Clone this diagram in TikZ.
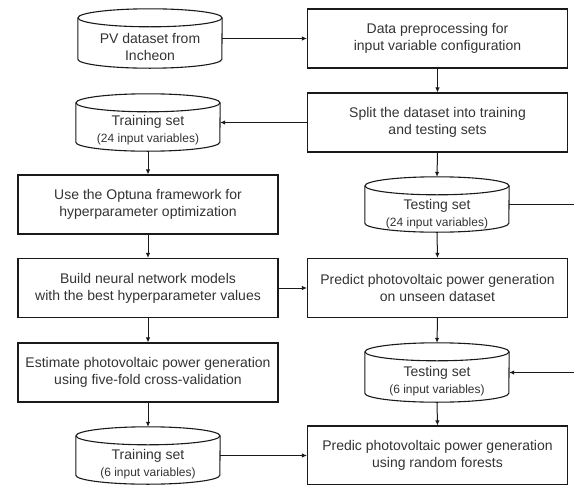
\documentclass[tikz,border=0pt]{standalone}
\usepackage{fontspec}
\setmainfont{Liberation Sans}
\usetikzlibrary{arrows.meta}
\definecolor{txt}{HTML}{333333}
\definecolor{ln}{HTML}{1A1A1A}
\tikzset{
  box/.style={draw=ln, line width=1.1pt, minimum width=260pt, minimum height=59pt, inner sep=0pt, align=center, font=\fontsize{14}{17}\selectfont, text=txt},
  cylarea/.style={minimum width=144pt, inner sep=0pt},
  lbl/.style={align=center, inner sep=0pt, text=txt, font=\fontsize{14}{17}\selectfont},
  conn/.style={draw=ln, line width=1pt},
  arr/.style={conn, -{Latex[length=5pt,width=4.5pt]}},
  cylline/.style={draw=ln, line width=1.1pt}
}
\newcommand{\cylshape}[1]{%
  \draw[cylline] ([yshift=-9pt]#1.north west) -- ([yshift=9pt]#1.south west)
    arc[start angle=180,end angle=360,x radius=72pt,y radius=9pt] -- ([yshift=-9pt]#1.north east);
  \draw[cylline] ([yshift=-9pt]#1.north) ellipse[x radius=72pt,y radius=9pt];
}
\newcommand{\smalltxt}{\fontsize{12}{15}\selectfont}
\begin{document}
\begin{tikzpicture}[x=1pt,y=-1pt]
\useasboundingbox (0,0) rectangle (574,485);
% cylinders
\node[cylarea, minimum height=59pt] (pv) at (150,38.5) {};
\node[cylarea, minimum height=57pt] (tr24) at (148,122.5) {};
\node[cylarea, minimum height=55pt] (te24) at (437,204.5) {};
\node[cylarea, minimum height=59pt] (te6) at (437,372.5) {};
\node[cylarea, minimum height=57pt] (tr6) at (148,455.5) {};
\cylshape{pv}
\cylshape{tr24}
\cylshape{te24}
\cylshape{te6}
\cylshape{tr6}
\node[lbl] (pvt) at (150,46.5) {PV dataset from\\Incheon};
\node[lbl] (tr24t) at (148,130.5) {Training set\\{\smalltxt (24 input variables)}};
\node[lbl] (te24t) at (437,214) {Testing set\\{\smalltxt (24 input variables)}};
\node[lbl] (te6t) at (437,381.5) {Testing set\\{\smalltxt (6 input variables)}};
\node[lbl] (tr6t) at (148,464.5) {Training set\\{\smalltxt (6 input variables)}};
% boxes
\node[box] (data) at (437.5,38.5) {Data preprocessing for\\input variable configuration};
\node[box] (split) at (437.5,122.5) {Split the dataset into training\\and testing sets};
\node[box] (optuna) at (148,204.5) {Use the Optuna framework for\\hyperparameter optimization};
\node[box] (build) at (148,288) {Build neural network models\\with the best hyperparameter values};
\node[box] (predict) at (437.5,288) {Predict photovoltaic power generation\\on unseen dataset};
\node[box] (estimate) at (148,372.5) {Estimate photovoltaic power generation\\using five-fold cross-validation};
\node[box] (predic) at (437.5,455.5) {Predic photovoltaic power generation\\using random forests};
% edge coordinates
\coordinate (e1) at (574,204.5);
\coordinate (e2) at (574,372.5);
% connectors
\draw[arr] (pv.east) -- (data.west);
\draw[arr] (data.south) -- (split.north);
\draw[arr] (split.west) -- (tr24.east);
\draw[arr] (tr24.south) -- (optuna.north);
\draw[arr] (split.south) -- (te24.north);
\draw[conn] (te24.east) -- (e1);
\draw[arr] (e2) -- (te6.east);
\draw[arr] (te24.south) -- (predict.north);
\draw[arr] (optuna.south) -- (build.north);
\draw[arr] (build.east) -- (predict.west);
\draw[arr] (build.south) -- (estimate.north);
\draw[arr] (predict.south) -- (te6.north);
\draw[arr] (estimate.south) -- (tr6.north);
\draw[arr] (te6.south) -- (predic.north);
\draw[arr] (tr6.east) -- (predic.west);
\end{tikzpicture}
\end{document}
